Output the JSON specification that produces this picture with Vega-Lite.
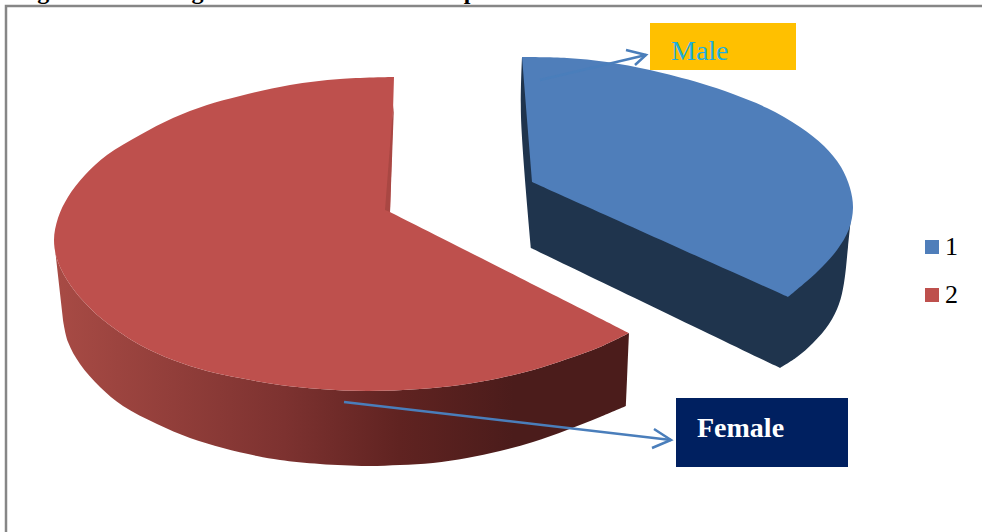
{"$schema":"https://vega.github.io/schema/vega-lite/v6.json","width":982,"height":532,"padding":0,"autosize":{"type":"none"},"background":"white","config":{"view":{"stroke":null}},
"datasets":{"outline":[
{"s":"redSide","n":1,"x":54,"y":240},{"s":"redSide","n":2,"x":58,"y":262},{"s":"redSide","n":3,"x":71,"y":286},{"s":"redSide","n":4,"x":88,"y":306},{"s":"redSide","n":5,"x":107,"y":323},{"s":"redSide","n":6,"x":140,"y":345},{"s":"redSide","n":7,"x":173,"y":360},{"s":"redSide","n":8,"x":207,"y":371},{"s":"redSide","n":9,"x":240,"y":378},{"s":"redSide","n":10,"x":280,"y":385},{"s":"redSide","n":11,"x":320,"y":389},{"s":"redSide","n":12,"x":367,"y":391},{"s":"redSide","n":13,"x":420,"y":389},{"s":"redSide","n":14,"x":460,"y":385},{"s":"redSide","n":15,"x":500,"y":378},{"s":"redSide","n":16,"x":533,"y":370},{"s":"redSide","n":17,"x":567,"y":359},{"s":"redSide","n":18,"x":600,"y":347},{"s":"redSide","n":19,"x":629,"y":333},{"s":"redSide","n":19.5,"x":629,"y":333},{"s":"redSide","n":20,"x":626,"y":406},{"s":"redSide","n":20.5,"x":626,"y":406},{"s":"redSide","n":21,"x":600,"y":417},{"s":"redSide","n":22,"x":567,"y":430},{"s":"redSide","n":23,"x":533,"y":442},{"s":"redSide","n":24,"x":500,"y":451},{"s":"redSide","n":25,"x":467,"y":458},{"s":"redSide","n":26,"x":433,"y":463},{"s":"redSide","n":27,"x":400,"y":465},{"s":"redSide","n":28,"x":367,"y":466},{"s":"redSide","n":29,"x":320,"y":464},{"s":"redSide","n":30,"x":280,"y":460},{"s":"redSide","n":31,"x":257,"y":456},{"s":"redSide","n":32,"x":223,"y":448},{"s":"redSide","n":33,"x":190,"y":438},{"s":"redSide","n":34,"x":157,"y":424},{"s":"redSide","n":35,"x":123,"y":406},{"s":"redSide","n":36,"x":100,"y":387},{"s":"redSide","n":37,"x":80,"y":364},{"s":"redSide","n":38,"x":68,"y":342},{"s":"redSide","n":39,"x":63,"y":320},
{"s":"blueSide","n":1,"x":522,"y":57},{"s":"blueSide","n":2,"x":521,"y":117},{"s":"blueSide","n":3,"x":531,"y":248},{"s":"blueSide","n":3.5,"x":531,"y":248},{"s":"blueSide","n":4,"x":780,"y":368},{"s":"blueSide","n":4.5,"x":780,"y":368},{"s":"blueSide","n":5,"x":797,"y":357},{"s":"blueSide","n":6,"x":813,"y":343},{"s":"blueSide","n":7,"x":829,"y":324},{"s":"blueSide","n":8,"x":839,"y":304},{"s":"blueSide","n":9,"x":844,"y":283},{"s":"blueSide","n":10,"x":848,"y":247},{"s":"blueSide","n":11,"x":852,"y":208},
{"s":"2","n":1,"x":394,"y":77},{"s":"2","n":2,"x":340,"y":79},{"s":"2","n":3,"x":290,"y":85},{"s":"2","n":4,"x":240,"y":96},{"s":"2","n":5,"x":207,"y":105},{"s":"2","n":6,"x":173,"y":118},{"s":"2","n":7,"x":140,"y":135},{"s":"2","n":8,"x":107,"y":155},{"s":"2","n":9,"x":85,"y":175},{"s":"2","n":10,"x":68,"y":197},{"s":"2","n":11,"x":58,"y":218},{"s":"2","n":12,"x":54,"y":240},{"s":"2","n":13,"x":58,"y":262},{"s":"2","n":14,"x":71,"y":286},{"s":"2","n":15,"x":88,"y":306},{"s":"2","n":16,"x":107,"y":323},{"s":"2","n":17,"x":140,"y":345},{"s":"2","n":18,"x":173,"y":360},{"s":"2","n":19,"x":207,"y":371},{"s":"2","n":20,"x":240,"y":378},{"s":"2","n":21,"x":280,"y":385},{"s":"2","n":22,"x":320,"y":389},{"s":"2","n":23,"x":367,"y":391},{"s":"2","n":24,"x":420,"y":389},{"s":"2","n":25,"x":460,"y":385},{"s":"2","n":26,"x":500,"y":378},{"s":"2","n":27,"x":533,"y":370},{"s":"2","n":28,"x":567,"y":359},{"s":"2","n":29,"x":600,"y":347},{"s":"2","n":30,"x":629,"y":333},{"s":"2","n":30.5,"x":629,"y":333},{"s":"2","n":31,"x":390,"y":212},
{"s":"1","n":1,"x":522,"y":57},{"s":"1","n":2,"x":567,"y":58},{"s":"1","n":3,"x":607,"y":62},{"s":"1","n":4,"x":650,"y":70},{"s":"1","n":5,"x":700,"y":83},{"s":"1","n":6,"x":733,"y":94},{"s":"1","n":7,"x":767,"y":108},{"s":"1","n":8,"x":800,"y":127},{"s":"1","n":9,"x":824,"y":146},{"s":"1","n":10,"x":841,"y":167},{"s":"1","n":11,"x":850,"y":188},{"s":"1","n":12,"x":853,"y":208},{"s":"1","n":13,"x":849,"y":229},{"s":"1","n":14,"x":837,"y":250},{"s":"1","n":15,"x":817,"y":272},{"s":"1","n":16,"x":788,"y":297},{"s":"1","n":16.5,"x":788,"y":297},{"s":"1","n":17,"x":532,"y":182},
{"s":"redInner","n":1,"x":394,"y":105},{"s":"redInner","n":2,"x":390,"y":212},{"s":"redInner","n":3,"x":385,"y":210},{"s":"redInner","n":4,"x":392,"y":120}
],
"lines":[
{"s":"frame","n":1,"x":6,"y":532},{"s":"frame","n":2,"x":6,"y":6},{"s":"frame","n":3,"x":982,"y":6},
{"s":"maleShaft","n":1,"x":540,"y":80},{"s":"maleShaft","n":2,"x":646,"y":55},
{"s":"maleHead","n":1,"x":626,"y":50},{"s":"maleHead","n":2,"x":646,"y":55},{"s":"maleHead","n":3,"x":635,"y":65},
{"s":"femaleShaft","n":1,"x":344,"y":402},{"s":"femaleShaft","n":2,"x":671,"y":440},
{"s":"femaleHead","n":1,"x":654,"y":429},{"s":"femaleHead","n":2,"x":671,"y":440},{"s":"femaleHead","n":3,"x":652,"y":448}
]},
"encoding":{"x":{"field":"x","type":"quantitative","scale":{"domain":[0,982],"nice":false,"zero":false},"axis":null},"y":{"field":"y","type":"quantitative","scale":{"domain":[532,0],"nice":false,"zero":false},"axis":null}},
"layer":[
{"data":{"values":[{"t":"Figure 1: Showing Gender Ratio of the Sample","x":16,"y":-1}]},"mark":{"type":"text","align":"left","baseline":"alphabetic","font":"Liberation Serif","fontWeight":"bold","fontSize":24,"color":"#000"},"encoding":{"text":{"field":"t"}}},
{"data":{"name":"lines"},"transform":[{"filter":"datum.s==='frame'"}],"mark":{"type":"line","stroke":"#868686","strokeWidth":2.5},"encoding":{"order":{"field":"n"}}},
{"data":{"name":"outline"},"transform":[{"filter":"datum.s==='redSide'"}],"mark":{"type":"line","interpolate":"catmull-rom","strokeWidth":0,"fill":{"gradient":"linear","x1":0,"x2":1,"y1":0,"y2":0,"stops":[{"offset":0,"color":"#A84B45"},{"offset":0.4,"color":"#7D3230"},{"offset":0.6,"color":"#602321"},{"offset":0.8,"color":"#4B1C1B"},{"offset":1,"color":"#4B1C1B"}]}},"encoding":{"order":{"field":"n"}}},
{"data":{"name":"outline"},"transform":[{"filter":"datum.s==='blueSide'"}],"mark":{"type":"line","interpolate":"catmull-rom","strokeWidth":0,"fill":"#1F344D"},"encoding":{"order":{"field":"n"}}},
{"data":{"name":"outline"},"transform":[{"filter":"datum.s==='1'||datum.s==='2'"}],"mark":{"type":"line","interpolate":"catmull-rom","strokeWidth":0},"encoding":{"order":{"field":"n"},"fill":{"field":"s","type":"nominal","scale":{"domain":["1","2"],"range":["#4F7EBA","#BE504D"]},"legend":{"title":null,"orient":"none","legendX":919,"legendY":234,"symbolType":"square","symbolSize":196,"symbolStrokeWidth":0,"labelFont":"Liberation Serif","labelFontSize":26,"labelColor":"#000","rowPadding":22,"labelOffset":0}}}},
{"data":{"name":"outline"},"transform":[{"filter":"datum.s==='redInner'"}],"mark":{"type":"line","strokeWidth":0,"fill":"#A94743"},"encoding":{"order":{"field":"n"}}},
{"data":{"values":[{"s":"Male","x":650,"x2":796,"y":23,"y2":70,"c":"#FFC000"},{"s":"Female","x":676,"x2":848,"y":398,"y2":467,"c":"#002060"}]},"mark":{"type":"rect"},"encoding":{"x2":{"field":"x2"},"y2":{"field":"y2"},"color":{"field":"c","type":"nominal","scale":null}}},
{"data":{"name":"lines"},"transform":[{"filter":"datum.s!=='frame'"}],"mark":{"type":"line","stroke":"#4A7EBB","strokeWidth":2.5},"encoding":{"order":{"field":"n"},"detail":{"field":"s"}}},
{"data":{"values":[{"t":"Male","x":671,"y":60}]},"mark":{"type":"text","align":"left","baseline":"alphabetic","font":"Liberation Serif","fontSize":28,"color":"#1FAEDD"},"encoding":{"text":{"field":"t"}}},
{"data":{"values":[{"t":"Female","x":697,"y":437}]},"mark":{"type":"text","align":"left","baseline":"alphabetic","font":"Liberation Serif","fontWeight":"bold","fontSize":28,"color":"#fff"},"encoding":{"text":{"field":"t"}}}
],
"resolve":{"scale":{"fill":"independent"}}}
